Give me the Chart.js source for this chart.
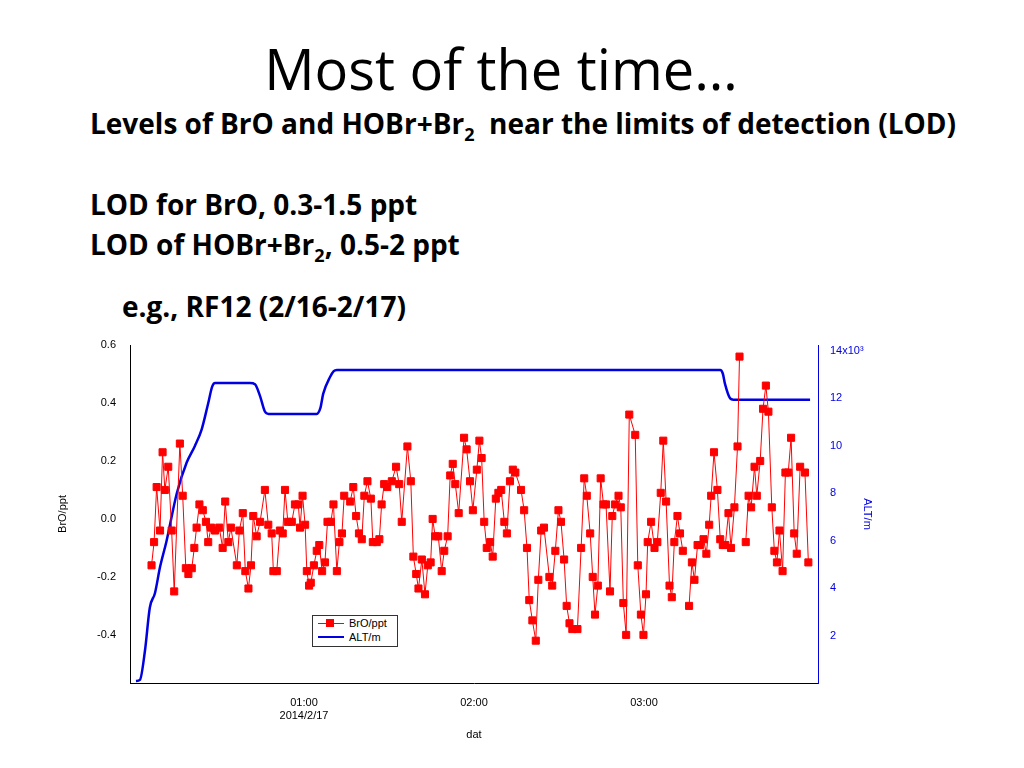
<!DOCTYPE html>
<html><head><meta charset="utf-8">
<script src="https://cdn.jsdelivr.net/npm/chart.js@4.4.0/dist/chart.umd.min.js"></script>
<style>
body{margin:0;width:1024px;height:768px;background:#fff;position:relative;overflow:hidden;font-family:"Open Sans",Lato,sans-serif;}
.t{position:absolute;white-space:nowrap;color:#000}
.b{font-size:28px;font-weight:bold;}
#cw{position:absolute;left:0;top:330px;width:1024px;height:438px}
#leg{position:absolute;left:312px;top:615px;width:84px;height:30px;border:1px solid #333;background:#fff;font-family:"Liberation Sans",Arial,sans-serif;font-size:11px}
#leg div{position:relative;height:14px;line-height:14px;padding-left:36px}
</style></head><body>
<div class="t" style="left:0;width:1002px;text-align:center;top:30px;font-size:56px;">Most of the time…</div>
<div class="t b" style="left:90px;top:104px;">Levels of BrO and HOBr+Br<sub style="font-size:18px">2</sub>&nbsp; near the limits of detection (LOD)</div>
<div class="t b" style="left:90px;top:185px;">LOD for BrO, 0.3-1.5 ppt</div>
<div class="t b" style="left:90px;top:225px;">LOD of HOBr+Br<sub style="font-size:18px">2</sub>, 0.5-2 ppt</div>
<div class="t b" style="left:122px;top:287px;">e.g., RF12 (2/16-2/17)</div>
<div id="cw"><canvas id="c"></canvas></div>
<div id="leg">
<div><span style="position:absolute;left:5px;top:7px;width:26px;height:1px;background:#f00"></span><span style="position:absolute;left:13px;top:3px;width:8px;height:8px;background:#f00"></span>BrO/ppt</div>
<div><span style="position:absolute;left:5px;top:6px;width:26px;height:2px;background:#0000e0"></span>ALT/m</div>
</div>
<script>
const broTime=[6.2,7.1,8.0,9.2,10.1,10.9,12.1,13.3,14.2,16.2,17.2,18.3,19.2,20.4,21.3,22.1,23.1,24.3,25.4,26.2,27.2,28.6,30.1,31.3,32.2,33.3,34.2,36.3,37.2,38.4,39.3,40.4,41.3,42.1,43.3,44.5,46.2,47.4,48.6,49.2,50.4,51.5,52.5,53.3,54.3,55.7,56.8,58.0,58.6,59.5,60.4,61.0,61.8,62.4,63.5,64.5,65.4,66.4,67.4,68.3,69.5,70.4,71.6,72.5,73.4,74.2,76.3,77.4,78.4,79.4,80.4,81.3,82.4,83.6,84.3,85.7,86.6,87.4,88.3,89.4,91.0,92.5,93.6,94.5,96.5,97.7,98.6,99.6,100.4,101.6,102.7,103.7,104.7,105.4,106.3,107.4,108.6,109.5,110.7,111.6,112.5,113.4,114.6,116.5,117.4,118.6,119.6,121.0,121.9,122.7,123.6,124.5,125.7,126.6,127.7,128.6,129.6,130.7,131.6,132.7,133.7,134.6,136.6,137.7,138.7,139.5,140.6,141.8,142.7,143.7,144.7,146.6,147.6,148.7,149.8,150.7,151.8,152.7,153.7,154.7,156.5,157.8,158.9,159.8,161.0,161.9,162.7,163.7,164.7,165.7,166.6,168.0,168.8,169.8,171.0,171.8,172.7,173.7,174.8,176.9,177.8,178.9,179.8,180.7,181.3,182.5,183.7,184.7,185.9,186.8,187.8,189.0,189.8,190.7,191.8,192.7,193.7,194.9,195.9,196.9,197.8,198.9,199.8,201.0,202.0,203.0,203.7,204.7,205.9,206.9,207.8,208.7,209.8,210.7,211.9,213.0,213.7,214.9,215.9,216.9,217.8,219.0,219.8,221.0,222.0,223.0,223.9,225.1,226.0,226.9,227.8,228.9,229.9,230.9,231.9,233.0,233.9,235.1,236.8,238.0,238.9];
const broValue=[-0.16,-0.08,0.11,-0.04,0.23,0.10,0.18,-0.04,-0.25,0.26,0.08,-0.17,-0.19,-0.17,-0.10,-0.03,0.05,0.03,-0.01,-0.08,-0.03,-0.04,-0.03,-0.10,0.06,-0.08,-0.03,-0.16,-0.04,0.02,-0.18,-0.24,-0.16,0.01,-0.06,-0.01,0.10,-0.02,-0.05,-0.18,-0.18,-0.04,-0.05,0.10,-0.01,-0.01,0.05,0.05,-0.03,0.08,-0.02,-0.18,-0.23,-0.22,-0.16,-0.11,-0.09,-0.18,-0.15,-0.01,-0.01,0.05,-0.18,-0.08,-0.05,0.08,0.06,0.11,0.01,-0.05,-0.07,0.08,0.13,0.07,-0.08,-0.08,-0.07,0.05,0.12,0.11,0.13,0.18,0.12,-0.01,0.25,0.13,-0.13,-0.19,-0.24,-0.14,-0.26,-0.16,-0.15,0.00,-0.06,-0.06,-0.18,-0.11,-0.06,0.15,0.19,0.12,0.02,0.28,0.24,0.13,0.03,0.17,0.27,0.21,-0.01,-0.10,-0.08,-0.13,0.07,0.09,0.10,-0.01,-0.05,0.13,0.17,0.16,0.10,0.03,-0.10,-0.28,-0.35,-0.42,-0.21,-0.04,-0.03,-0.20,-0.23,-0.11,0.03,-0.01,-0.14,-0.30,-0.36,-0.38,-0.38,-0.10,0.14,0.08,-0.05,-0.20,-0.33,-0.23,0.14,0.05,0.05,-0.25,0.01,0.05,0.08,0.04,-0.29,-0.40,0.36,0.29,-0.16,-0.33,-0.40,-0.26,-0.08,-0.01,-0.10,-0.08,0.09,0.27,0.06,-0.23,-0.27,-0.08,0.01,-0.05,-0.11,null,-0.30,-0.15,-0.21,-0.09,-0.09,-0.07,-0.12,-0.02,0.08,0.23,0.10,-0.07,-0.09,-0.09,0.02,-0.10,0.04,0.25,0.56,null,-0.08,0.08,0.04,0.18,0.08,0.20,0.38,0.46,0.37,0.04,-0.11,-0.15,-0.04,-0.18,0.16,0.16,0.28,-0.05,-0.12,0.18,0.16,-0.15];
const altTime=[0.7,2.1,3.9,5.6,7.4,9.2,11.5,15.1,18.6,21.5,23.9,26.2,27.6,28.6,41.0,42.7,44.5,46.2,47.5,64.5,65.8,66.8,69.2,70.5,71.6,206.9,207.8,208.6,210.4,211.5,238.6];
const altValue=[100,150,1400,3200,3800,4900,6000,8000,9300,10000,10700,11800,12500,12650,12650,12600,12100,11450,11350,11350,11600,12200,12900,13150,13200,13200,13050,12600,12000,11950,11950];
const xTicks=[60,120,180];
const xLabels=["01:00","02:00","03:00"];
const yTicks=[-0.4,-0.2,0.0,0.2,0.4,0.6];
const y2Ticks=[2000,4000,6000,8000,10000,12000,14000];

const bro=broTime.map((t,i)=>({x:t,y:broValue[i]}));
const alt=altTime.map((t,i)=>({x:t,y:altValue[i]}));
const F={family:'"Liberation Sans",Arial,sans-serif',size:11};
new Chart(document.getElementById('c'),{
 type:'line',
 data:{datasets:[
  {data:bro,yAxisID:'y',borderColor:'#f00',backgroundColor:'#f00',borderWidth:1,pointStyle:'rect',pointRadius:5,pointHoverRadius:5,spanGaps:false},
  {data:alt,yAxisID:'y2',borderColor:'#0000e0',borderWidth:2.5,pointRadius:0,cubicInterpolationMode:'monotone'}
 ]},
 options:{animation:false,responsive:true,maintainAspectRatio:false,
  layout:{padding:{left:52,right:146,top:15,bottom:22}},
  plugins:{legend:{display:false},tooltip:{enabled:false}},
  scales:{
   x:{type:'linear',min:-1.4,max:241.4,
     afterBuildTicks:s=>{s.ticks=xTicks.map(v=>({value:v}));},
     afterFit:s=>{s.height=63;},
     grid:{display:false,drawTicks:true,tickLength:5,color:'#000'},
     border:{color:'#000'},
     ticks:{color:'#000',font:F,maxRotation:0,padding:8,callback:(v)=>{const i=xTicks.indexOf(v);return i===0?[xLabels[i],'2014/2/17']:xLabels[i];}},
     title:{display:true,text:'dat',color:'#000',font:F,padding:{top:4}}},
   y:{position:'left',min:-0.566,max:0.6,
     afterBuildTicks:s=>{s.ticks=yTicks.map(v=>({value:v}));},
     afterFit:s=>{s.width=78;},
     grid:{display:false,tickLength:6,color:'#000'},border:{color:'#000'},
     ticks:{color:'#000',font:F,padding:8,callback:v=>v.toFixed(1)},
     title:{display:true,text:'BrO/ppt',color:'#000',font:F}},
   y2:{position:'right',min:20,max:14250,
     afterBuildTicks:s=>{s.ticks=y2Ticks.map(v=>({value:v}));},
     afterFit:s=>{s.width=60;},
     grid:{display:false,tickLength:6,color:'#0000e0'},border:{color:'#0000e0'},
     ticks:{color:'#0000e0',font:F,padding:6,callback:v=>v===14000?'14x10³':String(v/1000)},
     title:{display:true,text:'ALT/m',color:'#0000e0',font:F}}
  }}
});
</script></body></html>
